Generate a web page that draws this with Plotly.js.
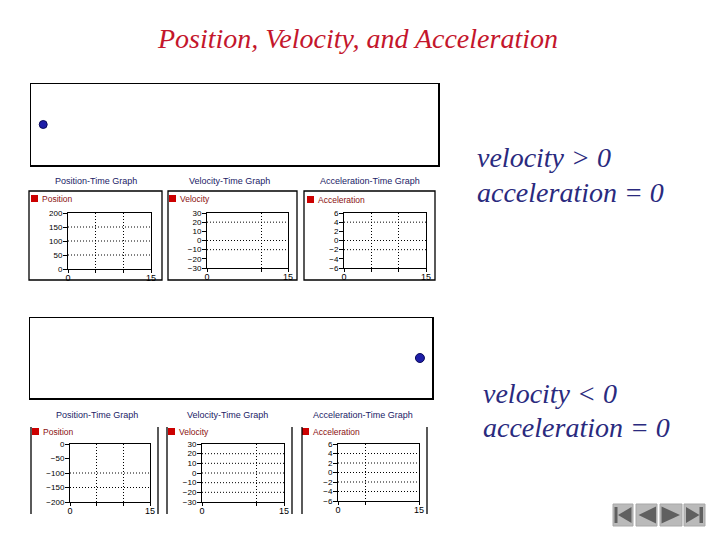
<!DOCTYPE html>
<html><head><meta charset="utf-8">
<script src="https://cdn.plot.ly/plotly-3.0.1.min.js"></script>
<style>html,body{margin:0;padding:0;background:#fff}#chart{width:720px;height:540px}</style>
</head><body><div id="chart"></div>
<script>
const W = 720, H = 540;
// ---- content / data ----
const mainTitle = "Position, Velocity, and Acceleration";
const caseLines = [["velocity &gt; 0", "acceleration = 0"], ["velocity &lt; 0", "acceleration = 0"]];
const graphTitles = ["Position-Time Graph", "Velocity-Time Graph", "Acceleration-Time Graph"];
const seriesNames = ["Position", "Velocity", "Acceleration"];
const objectX = [3, 97];          // object location on the track (top case, bottom case)
const objectY = [0, 0];
const timeRange = [0, 15];
const posTicksTop = [0, 50, 100, 150, 200];
const posTicksBottom = [0, -50, -100, -150, -200];
const velTicks = [-30, -20, -10, 0, 10, 20, 30];
const accTicks = [-6, -4, -2, 0, 2, 4, 6];
const posGridTop = [50, 100, 150];
const velGridTop = [20, 0, -10];
const accGridTop = [4, 0, -2];
const posGridBottom = [-100, -150];
const velGridBottom = [20, 10, 0, -10, -20];
const accGridBottom = [4, 2, 0, -2, -4];
const timeGridPos = [5, 10];
const timeGridVel = [10];
const timeGridAccTop = [5, 10];
const timeGridAccBottom = [5];

// ---- layout helpers ----
const px = x => x / W;
const py = y => 1 - y / H;

const graphs = [
  {dom:[68,151,213,269], range:[0,200], ticks:posTicksTop, xg:timeGridPos, yg:posGridTop},
  {dom:[207,288,213,268], range:[-30,30], ticks:velTicks, xg:timeGridVel, yg:velGridTop},
  {dom:[344,426,213,268], range:[-6,6], ticks:accTicks, xg:timeGridAccTop, yg:accGridTop},
  {dom:[70,150,444,502], range:[-200,0], ticks:posTicksBottom, xg:timeGridPos, yg:posGridBottom},
  {dom:[202,284,444,502], range:[-30,30], ticks:velTicks, xg:timeGridVel, yg:velGridBottom},
  {dom:[338,419,444,501], range:[-6,6], ticks:accTicks, xg:timeGridAccBottom, yg:accGridBottom}
];
const motionDom = [[31,438,84,165],[30,432,318,398]];
const titlePos = [[96,181],[229,181],[370,181],[97,415],[227,415],[363,415]];
const legendSq = [[31,195],[169,195],[307,196],[32,428],[168,428],[302,428]];
const topFrames = [[29,162],[168,297],[304,435]];
const bottomFrames = [[31,158],[167,292],[302,427]];

const data = [];
const layout = {
  width: W, height: H, margin:{l:0,r:0,t:0,b:0},
  paper_bgcolor:'#ffffff', plot_bgcolor:'rgba(0,0,0,0)', showlegend:false,
  shapes:[], annotations:[]
};
const DOT = '1px,2px';

// motion tracks
for (let i = 0; i < 2; i++) {
  const n = i + 1, d = motionDom[i];
  const xa = n === 1 ? 'xaxis' : 'xaxis' + n, ya = n === 1 ? 'yaxis' : 'yaxis' + n;
  layout[xa] = {domain:[px(d[0]), px(d[1])], range:[0,100], showline:true, mirror:true, linecolor:'#000', linewidth:1.5,
    showgrid:false, zeroline:false, showticklabels:false, ticks:'', anchor: n===1?'y':'y'+n, fixedrange:true};
  layout[ya] = {domain:[py(d[3]), py(d[2])], range:[-1,1], showline:true, mirror:true, linecolor:'#000', linewidth:1.5,
    showgrid:false, zeroline:false, showticklabels:false, ticks:'', anchor: n===1?'x':'x'+n, fixedrange:true};
  data.push({type:'scatter', mode:'markers', x:[objectX[i]], y:[objectY[i]], xaxis:n===1?'x':'x'+n, yaxis:n===1?'y':'y'+n,
    marker:{size: i === 0 ? 8 : 9, color:'#1e1ea8', line:{color:'#0a0a5a', width:1}}, hoverinfo:'skip'});
}

// time graphs
const xTickFont = {family:'Liberation Sans, Arial, sans-serif', size:9, color:'#000'};
const yTickFont = {family:'Liberation Sans, Arial, sans-serif', size:8, color:'#000'};
graphs.forEach((g, k) => {
  const n = k + 3, d = g.dom;
  const tv = [timeRange[0], ...g.xg, timeRange[1]];
  const tt = tv.map(v => (v === timeRange[0] || v === timeRange[1]) ? String(v) : '');
  layout['xaxis'+n] = {domain:[px(d[0]), px(d[1])], range:timeRange, anchor:'y'+n,
    showline:true, mirror:true, linecolor:'#000', linewidth:1, ticks:'outside', ticklen:3, tickcolor:'#000',
    tickmode:'array', tickvals:tv, ticktext:tt, tickfont:xTickFont, tickangle:0, ticklabelstandoff:-3,
    showgrid:true, gridcolor:'#000', gridwidth:1, griddash:DOT, zeroline:false, fixedrange:true};
  layout['yaxis'+n] = {domain:[py(d[3]), py(d[2])], range:g.range, anchor:'x'+n,
    showline:true, mirror:true, linecolor:'#000', linewidth:1, ticks:'outside', ticklen:4, tickcolor:'#000',
    tickmode:'array', tickvals:g.ticks, tickfont:yTickFont, ticklabelstandoff:-1, showgrid:false, zeroline:false, fixedrange:true};
  data.push({type:'scatter', mode:'lines', x:[], y:[], xaxis:'x'+n, yaxis:'y'+n, hoverinfo:'skip'});
  g.yg.forEach(v => layout.shapes.push({type:'line', xref:'x'+n, yref:'y'+n, x0:timeRange[0], x1:timeRange[1], y0:v, y1:v,
    line:{color:'#000', width:1, dash:DOT}, layer:'below'}));
  // graph title
  layout.annotations.push({xref:'paper', yref:'paper', x:px(titlePos[k][0]), y:py(titlePos[k][1]), xanchor:'center', yanchor:'middle',
    text:graphTitles[k%3], showarrow:false, font:{family:'Liberation Sans, Arial, sans-serif', size:9, color:'#1a1a66'}});
  // legend square + label
  const s = legendSq[k];
  layout.shapes.push({type:'rect', xref:'paper', yref:'paper', x0:px(s[0]), x1:px(s[0]+7), y0:py(s[1]+7), y1:py(s[1]),
    fillcolor:'#cc0000', line:{width:0}});
  layout.annotations.push({xref:'paper', yref:'paper', x:px(s[0]+9), y:py(s[1]+3.5), xanchor:'left', yanchor:'middle',
    text:seriesNames[k%3], showarrow:false, font:{family:'Liberation Sans, Arial, sans-serif', size:8.5, color:'#8a1010'}});
});

// frames
topFrames.forEach(f => layout.shapes.push({type:'rect', xref:'paper', yref:'paper', x0:px(f[0]), x1:px(f[1]), y0:py(280), y1:py(191),
  line:{color:'#000', width:1.3}}));
bottomFrames.forEach(f => f.forEach(x => layout.shapes.push({type:'line', xref:'paper', yref:'paper', x0:px(x), x1:px(x), y0:py(427), y1:py(514),
  line:{color:'#000', width:1.3}})));

// main title
layout.annotations.push({xref:'paper', yref:'paper', x:px(357), y:py(39), xanchor:'center', yanchor:'middle', showarrow:false,
  text:'<i>'+mainTitle+'</i>', font:{family:'Liberation Serif, Times New Roman, serif', size:28, color:'#c4162c'}});
// case labels
const caseX = [475, 481], caseY = [[158,192],[393,427]];
caseLines.forEach((lines, i) => lines.forEach((t, j) => layout.annotations.push({xref:'paper', yref:'paper', x:px(caseX[i]), y:py(caseY[i][j]),
  xanchor:'left', yanchor:'middle', showarrow:false, text:'<i>'+t+'</i>',
  font:{family:'Liberation Serif, Times New Roman, serif', size:28, color:'#2a2a7e'}})));

// navigation buttons
const btnX = [[613,633],[636,657],[660,682],[684,705]];
btnX.forEach(b => layout.shapes.push({type:'rect', xref:'paper', yref:'paper', x0:px(b[0]), x1:px(b[1]), y0:py(526), y1:py(504),
  fillcolor:'#bababa', line:{color:'#a8a8a8', width:1}}));
const P = pts => 'M' + pts.map(p => px(p[0]) + ',' + py(p[1])).join(' L') + ' Z';
const icons = [
  P([[614.5,507],[617.5,507],[617.5,523],[614.5,523]]),
  P([[618,515],[631.5,507],[631.5,523]]),
  P([[638.5,515],[656,506.5],[656,523.5]]),
  P([[661.5,506.5],[680,515],[661.5,523.5]]),
  P([[686,507],[699.5,515],[686,523]]),
  P([[699.5,507],[703,507],[703,523],[699.5,523]])
];
icons.forEach(p => layout.shapes.push({type:'path', xref:'paper', yref:'paper', path:p, fillcolor:'#606060', line:{width:0}}));

Plotly.newPlot('chart', data, layout, {staticPlot:true, displayModeBar:false});
</script></body></html>
